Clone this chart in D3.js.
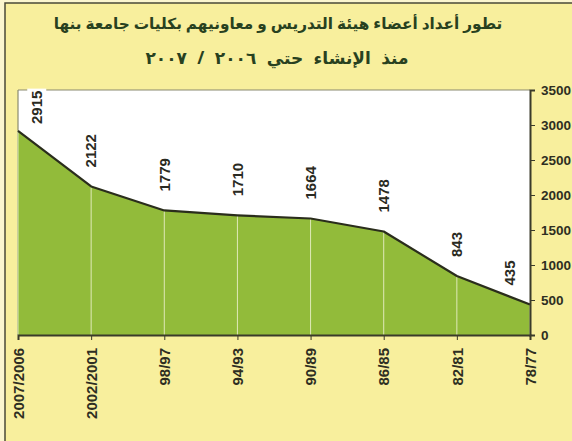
<!DOCTYPE html>
<html><head><meta charset="utf-8">
<script src="https://cdn.jsdelivr.net/npm/d3@7"></script>
<style>
html,body{margin:0;padding:0;background:#fbf6cf;}
svg{display:block;}
</style></head>
<body>
<script>
const categories = ["2007/2006","2002/2001","98/97","94/93","90/89","86/85","82/81","78/77"];
const values = [2915, 2122, 1779, 1710, 1664, 1478, 843, 435];
const yTicks = [0, 500, 1000, 1500, 2000, 2500, 3000, 3500];
const titleLine1 = "تطور أعداد أعضاء هيئة التدريس و معاونيهم بكليات جامعة بنها";
const titleLine2 = "منذ الإنشاء حتي ٢٠٠٦ / ٢٠٠٧";

const W = 572, H = 441;
const svg = d3.select("body").append("svg").attr("width", W).attr("height", H);

// outer frame
svg.append("rect").attr("x",0).attr("y",0).attr("width",W).attr("height",H).attr("fill","#fbf6cf");
svg.append("rect").attr("x",5).attr("y",3).attr("width",W+10).attr("height",H+10)
  .attr("fill","#f8ef9d").attr("stroke","#4a4a38").attr("stroke-width",1.5);

const pL = 18, pR = 530, pT = 90, pB = 335;
const x = d3.scalePoint().domain(categories).range([pL, pR]);
const y = d3.scaleLinear().domain([0, 3500]).range([pB, pT]);

// plot background
svg.append("rect").attr("x",pL).attr("y",pT).attr("width",pR-pL).attr("height",pB-pT)
  .attr("fill","#ffffff");
svg.append("line").attr("x1",pL).attr("x2",pR).attr("y1",pT).attr("y2",pT)
  .attr("stroke","#8a8a70").attr("stroke-width",1.2);
svg.append("line").attr("x1",pL).attr("x2",pL).attr("y1",pT).attr("y2",pB)
  .attr("stroke","#8a8a70").attr("stroke-width",1.2);

const area = d3.area().x((d,i)=>x(categories[i])).y0(pB).y1(d=>y(d));
svg.append("path").datum(values).attr("d", area).attr("fill","#92bb3a");

// vertical gridlines inside area
svg.selectAll("line.grid").data(values).enter().append("line")
  .attr("class","grid")
  .attr("x1",(d,i)=>x(categories[i])).attr("x2",(d,i)=>x(categories[i]))
  .attr("y1",d=>y(d)).attr("y2",pB)
  .attr("stroke","#dfe9b8").attr("stroke-width",1);

const line = d3.line().x((d,i)=>x(categories[i])).y(d=>y(d));
svg.append("path").datum(values).attr("d", line).attr("fill","none")
  .attr("stroke","#2a2d1c").attr("stroke-width",2.2).attr("stroke-linejoin","round");

// axes
const xAxis = svg.append("g").attr("transform",`translate(0,${pB})`)
  .call(d3.axisBottom(x).tickSize(5).tickPadding(6));
xAxis.select(".domain").attr("stroke","#3a3a2a").attr("stroke-width",2);
xAxis.selectAll(".tick line").attr("stroke","#3a3a2a");
xAxis.selectAll("text")
  .attr("transform","rotate(-90)")
  .attr("x",-13).attr("y",0).attr("dy","0.35em")
  .style("text-anchor","end")
  .attr("font-family","Liberation Sans, Arial, sans-serif")
  .attr("font-weight","bold").attr("font-size","15px").attr("fill","#2e2e22");

const yAxis = svg.append("g").attr("transform",`translate(${pR},0)`)
  .call(d3.axisRight(y).tickValues(yTicks).tickSize(5).tickPadding(6).tickFormat(d3.format("d")));
yAxis.select(".domain").attr("stroke","#3a3a2a").attr("stroke-width",2);
yAxis.selectAll(".tick line").attr("stroke","#3a3a2a");
yAxis.selectAll("text")
  .attr("font-family","Liberation Sans, Arial, sans-serif")
  .attr("font-weight","bold").attr("font-size","13.5px").attr("fill","#2e2e22");

// data labels
const lbl = svg.append("g");
values.forEach((v,i)=>{
  const px = Math.min(Math.max(x(categories[i]), pL + 19), pR - 20);
  const py = i === 0 ? pT + 34 : y(v) - 19;
  const g = lbl.append("g").attr("transform",`translate(${px},${py}) rotate(-90)`);
  const t = g.append("text").attr("x",0).attr("y",0).attr("dy","0.35em")
    .attr("text-anchor","start")
    .attr("font-family","Liberation Sans, Arial, sans-serif")
    .attr("font-weight","bold").attr("font-size","15px").attr("fill","#2a2a22")
    .text(v);
  if (i === 0) {
    const bb = t.node().getBBox();
    g.insert("rect","text").attr("x",bb.x-2).attr("y",bb.y-1).attr("width",bb.width+4).attr("height",bb.height+2)
      .attr("fill","#ffffff");
  }
});

// titles
svg.append("text").attr("x",278).attr("y",29).attr("text-anchor","middle")
  .attr("direction","rtl")
  .attr("font-family","Noto Sans, DejaVu Sans, sans-serif").attr("font-weight","bold")
  .attr("font-size","15.3px").attr("fill","#28411f").text(titleLine1);
svg.append("text").attr("x",277).attr("y",64).attr("text-anchor","middle")
  .attr("direction","rtl")
  .attr("font-family","Noto Sans, DejaVu Sans, sans-serif").attr("font-weight","bold")
  .attr("font-size","17px").attr("fill","#28411f").attr("word-spacing","6px").text(titleLine2);
</script>
</body></html>
